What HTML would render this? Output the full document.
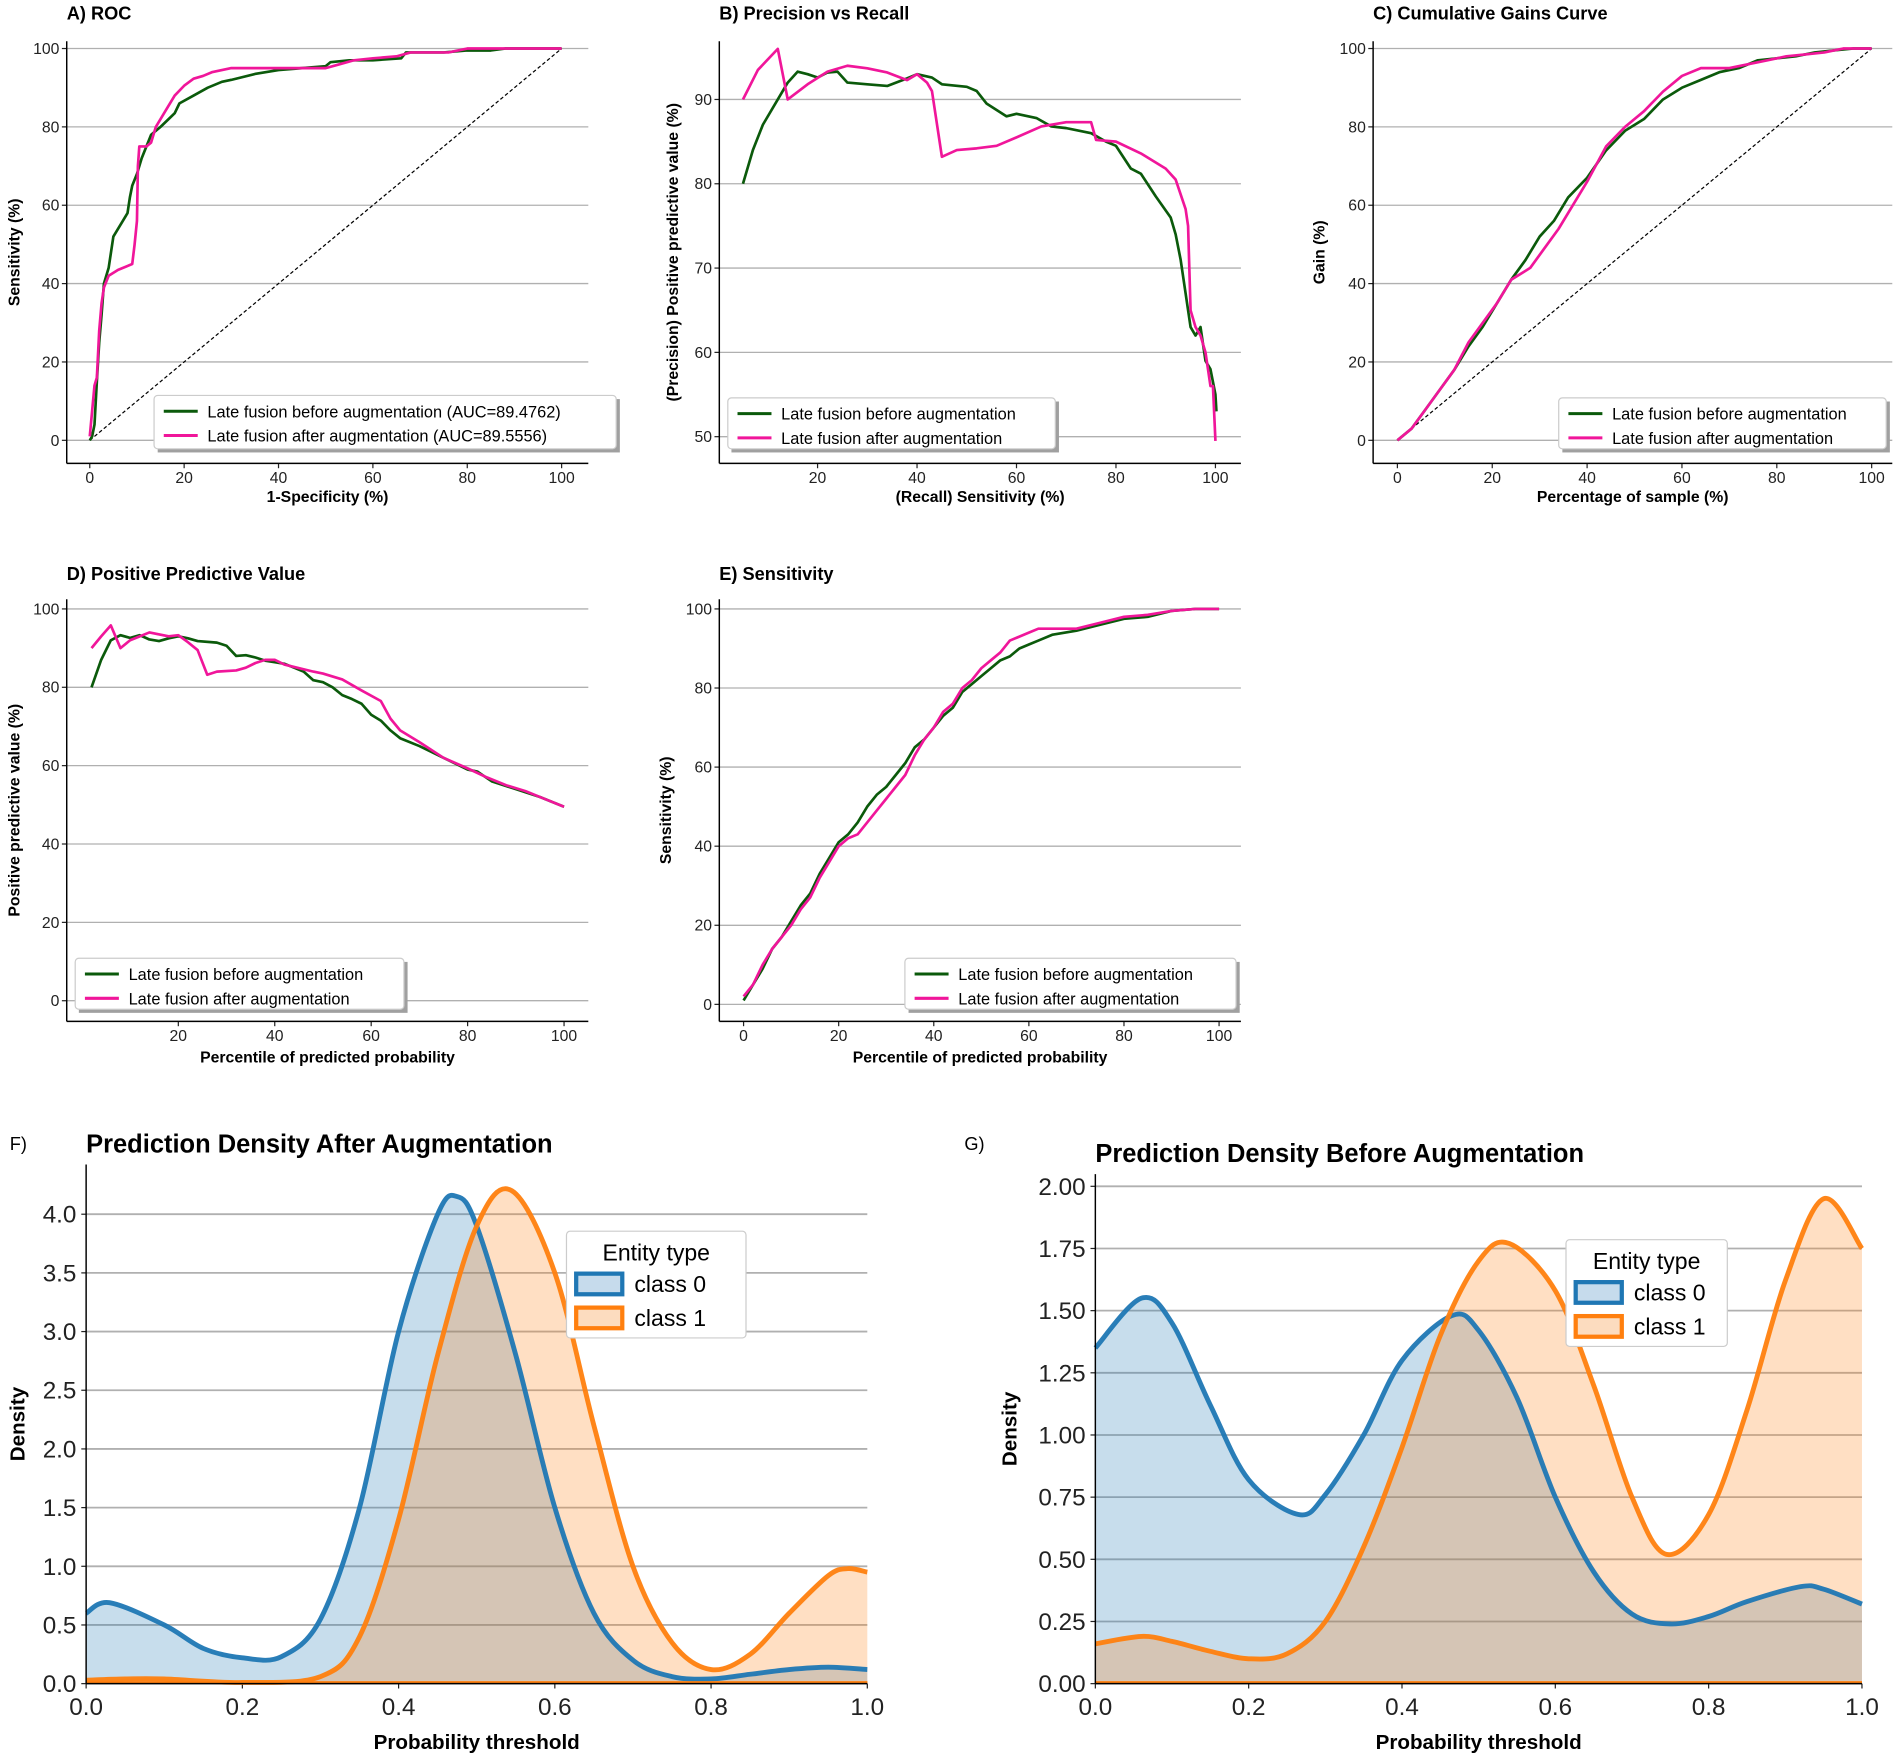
<!DOCTYPE html>
<html><head><meta charset="utf-8"><style>
html,body{margin:0;padding:0;background:#fff}
svg{display:block}
text{font-family:"Liberation Sans","DejaVu Sans",sans-serif}
</style></head><body>
<svg id="fig" width="1902" height="1758" viewBox="0 0 1568 1449.3" xmlns="http://www.w3.org/2000/svg"></svg>
<script>
// ---- data ----
const rocBefore=[[0,0],[0.5,1],[1,4],[1.5,15],[2,25],[2.5,32],[3,40],[4,44],[5,52],[7,56],[8,58],[8.5,62],[9,65],[10,68],[11,72],[13,78],[15,80],[18,83.5],[19,86],[22,88],[25,90],[28,91.5],[30,92],[35,93.5],[40,94.5],[45,95],[50,95.5],[51,96.5],[55,97],[60,97],[66,97.5],[67,99],[75,99],[80,99.5],[85,99.5],[88,100],[100,100]];
const rocAfter=[[0,1],[1,14],[1.5,16],[2,28],[2.5,35],[3,39],[4,42],[6,43.5],[9,45],[9.5,50],[10,56],[10.2,70],[10.5,75],[12,75],[13,76],[14,80],[16,84],[18,88],[20,90.5],[22,92.3],[24,93],[26,94],[30,95],[50,95],[53,96],[56,97],[60,97.5],[65,98],[68,99],[76,99],[80,100],[100,100]];
const prBefore=[[5,80],[7,84],[9,87],[12,90],[14,92],[16,93.3],[18,93],[20,92.6],[22,93.2],[24,93.3],[26,92],[30,91.8],[34,91.6],[38,92.5],[40,93],[43,92.6],[45,91.8],[50,91.5],[52,91],[54,89.5],[58,88],[60,88.3],[64,87.8],[67,86.8],[70,86.6],[75,86],[78,85],[80,84.5],[83,81.8],[85,81.2],[88,78.5],[91,76],[92,74],[93,71],[94,67],[95,63],[96,62],[97,63],[98,59],[99,58],[100,55],[100.2,53]];
const prAfter=[[5,90],[8,93.5],[12,96],[14,90],[18,91.8],[22,93.3],[26,94],[30,93.7],[34,93.2],[38,92.3],[40,93],[42,92],[43,91],[45,83.2],[48,84],[52,84.2],[56,84.5],[60,85.5],[65,86.8],[70,87.3],[75,87.3],[76,85.2],[80,85],[85,83.6],[90,81.8],[92,80.5],[94,77],[94.5,75],[95,65],[96,63],[97,62],[98,60],[98.5,58],[99,56],[99.5,56],[100,49.5]];
const gainBefore=[[0,0],[3,3],[6,8],[9,13],[12,18],[15,24],[18,29],[21,35],[24,41],[27,46],[30,52],[33,56],[36,62],[40,67],[44,74],[48,79],[52,82],[56,87],[60,90],[64,92],[68,94],[72,95],[76,97],[80,97.5],[84,98],[88,99],[92,99.5],[96,100],[100,100]];
const gainAfter=[[0,0],[3,3],[6,8],[9,13],[12,18],[15,25],[18,30],[21,35],[24,41],[28,44],[31,49],[34,54],[37,60],[40,66],[44,75],[48,80],[52,84],[56,89],[60,93],[64,95],[70,95],[74,96],[78,97],[82,98],[86,98.5],[90,99],[94,100],[100,100]];
const ppvBefore=[[2,80],[4,87],[6,92],[8,93.3],[10,92.6],[12,93.3],[14,92.2],[16,91.8],[18,92.5],[20,93],[22,92.5],[24,91.8],[28,91.4],[30,90.6],[32,88],[34,88.2],[36,87.6],[38,86.8],[40,86.4],[42,86],[44,85],[46,84],[48,81.8],[50,81.3],[52,80],[54,78],[56,77],[58,75.8],[60,73],[62,71.5],[64,69],[66,67],[70,65],[75,62],[80,59],[82,58.5],[85,56],[90,54],[95,52],[100,49.5]];
const ppvAfter=[[2,90],[4,93],[6,95.8],[8,90],[10,92],[12,93],[14,94],[18,93],[20,93.3],[22,91.5],[24,89.5],[26,83.2],[28,84],[32,84.3],[34,85],[36,86.2],[38,87],[40,87],[42,85.8],[44,85.2],[48,84],[50,83.5],[54,82],[58,79.2],[62,76.5],[64,72],[66,69],[70,66],[75,62],[80,59.3],[84,57],[88,55],[92,53.5],[96,51.5],[100,49.5]];
const sensBefore=[[0,1],[2,5],[4,9],[6,14],[8,17],[10,21],[12,25],[14,28],[16,33],[18,37],[20,41],[22,43],[24,46],[26,50],[28,53],[30,55],[32,58],[34,61],[36,65],[38,67],[40,70],[42,73],[44,75],[46,79],[48,81],[50,83],[52,85],[54,87],[56,88],[58,90],[60,91],[62,92],[65,93.5],[70,94.5],[75,96],[80,97.5],[85,98],[90,99.5],[95,100],[100,100]];
const sensAfter=[[0,2],[2,5],[4,10],[6,14],[8,17],[10,20],[12,24],[14,27],[16,32],[18,36],[20,40],[22,42],[24,43],[26,46],[28,49],[30,52],[32,55],[34,58],[36,63],[38,67],[40,70],[42,74],[44,76],[46,80],[48,82],[50,85],[52,87],[54,89],[56,92],[58,93],[60,94],[62,95],[70,95],[75,96.5],[80,98],[85,98.5],[90,99.5],[95,100],[100,100]];
const densFc0=[[0,0.6],[0.03,0.69],[0.1,0.5],[0.15,0.3],[0.2,0.22],[0.25,0.23],[0.3,0.55],[0.35,1.5],[0.4,3.0],[0.45,4.0],[0.475,4.15],[0.5,3.9],[0.55,2.8],[0.6,1.5],[0.65,0.6],[0.7,0.2],[0.75,0.06],[0.8,0.04],[0.85,0.08],[0.9,0.12],[0.95,0.14],[1.0,0.12]];
const densFc1=[[0,0.03],[0.05,0.04],[0.1,0.04],[0.2,0.01],[0.3,0.06],[0.35,0.4],[0.4,1.4],[0.45,2.8],[0.5,3.9],[0.545,4.2],[0.6,3.5],[0.65,2.2],[0.7,1.0],[0.75,0.35],[0.8,0.12],[0.85,0.25],[0.9,0.6],[0.95,0.92],[0.975,0.98],[1.0,0.95]];
const densGc0=[[0,1.35],[0.06,1.55],[0.1,1.45],[0.15,1.12],[0.2,0.82],[0.265,0.68],[0.3,0.76],[0.35,1.0],[0.4,1.3],[0.465,1.48],[0.5,1.42],[0.55,1.15],[0.6,0.75],[0.65,0.45],[0.7,0.28],[0.75,0.24],[0.8,0.27],[0.85,0.33],[0.92,0.39],[0.95,0.38],[1.0,0.32]];
const densGc1=[[0,0.16],[0.06,0.19],[0.1,0.17],[0.15,0.13],[0.2,0.1],[0.25,0.12],[0.3,0.25],[0.35,0.55],[0.4,0.95],[0.45,1.4],[0.5,1.7],[0.54,1.77],[0.6,1.58],[0.65,1.2],[0.7,0.75],[0.745,0.52],[0.8,0.68],[0.85,1.1],[0.9,1.62],[0.95,1.95],[1.0,1.75]];
const pctTicks=[0,20,40,60,80,100];
const prYTicks=[50,60,70,80,90];
const prXTicks=[20,40,60,80,100];
const probTicks=[0,0.2,0.4,0.6,0.8,1.0];
const densFTicks=[0,0.5,1,1.5,2,2.5,3,3.5,4];
const densGTicks=[0,0.25,0.5,0.75,1,1.25,1.5,1.75,2];

const NS="http://www.w3.org/2000/svg";
const svg=document.getElementById('fig');
function el(tag,attrs,parent,txt){const e=document.createElementNS(NS,tag);for(const k in attrs)e.setAttribute(k,attrs[k]);if(txt!==undefined)e.textContent=txt;(parent||svg).appendChild(e);return e;}
const GREEN='#0b5a0b',PINK='#f0169a',BLUE='#1f77b4',ORANGE='#ff7f0e';

function smoothPath(pts){let d='M'+pts[0][0].toFixed(2)+','+pts[0][1].toFixed(2);
 for(let i=0;i<pts.length-1;i++){const p0=pts[i-1]||pts[i],p1=pts[i],p2=pts[i+1],p3=pts[i+2]||p2;
  const c1=[p1[0]+(p2[0]-p0[0])/6,p1[1]+(p2[1]-p0[1])/6],c2=[p2[0]-(p3[0]-p1[0])/6,p2[1]-(p3[1]-p1[1])/6];
  d+=' C'+c1[0].toFixed(2)+','+c1[1].toFixed(2)+' '+c2[0].toFixed(2)+','+c2[1].toFixed(2)+' '+p2[0].toFixed(2)+','+p2[1].toFixed(2);}
 return d;}

function panel(c){
 const g=el('g',{});
 
 
 const sx=v=>c.x0+(v-c.d0)/(c.d1-c.d0)*(c.x1-c.x0);
 const sy=v=>c.y0+(v-c.r0)/(c.r1-c.r0)*(c.y1-c.y0);
 c.yt.forEach(v=>{const l=el('line',{x1:c.left,x2:c.right,y1:sy(v),y2:sy(v),stroke:'#b0b0b0','stroke-width':c.big?1.5:1.1},g);
  
  const t=el('text',{x:c.left-(c.big?8:6),y:sy(v)+(c.big?7:4.5),'text-anchor':'end','font-size':c.big?20:13,fill:'#222'},g,c.yfmt?c.yfmt(v):v);
  
  el('line',{x1:c.left-4,x2:c.left,y1:sy(v),y2:sy(v),stroke:'#222'},g);});
 c.xt.forEach(v=>{const t=el('text',{x:sx(v),y:c.bottom+(c.big?26:16),'text-anchor':'middle','font-size':c.big?20:13,fill:'#222'},g,c.xfmt?c.xfmt(v):v);
  
  el('line',{x1:sx(v),x2:sx(v),y1:c.bottom,y2:c.bottom+4,stroke:'#222'},g);});
 if(c.diag){const l=el('line',{x1:sx(0),y1:sy(0),x2:sx(100),y2:sy(100),stroke:'#000','stroke-width':1,'stroke-dasharray':'3,2'},g);
  }
 (c.series||[]).forEach(s=>{const pts=s.data.map(p=>[sx(p[0]),sy(p[1])]);
  const p=el('polyline',{points:pts.map(q=>q.join(',')).join(' '),fill:'none',stroke:s.color,'stroke-width':2.2,'stroke-linejoin':'round'},g);
  });
 (c.dens||[]).forEach(s=>{const pts=s.data.map(p=>[sx(p[0]),sy(p[1])]);const d=smoothPath(pts);
  const f=el('path',{d:d+' L'+sx(1)+','+sy(0)+' L'+sx(0)+','+sy(0)+' Z',fill:s.fill,stroke:'none'},g);
  });
 (c.dens||[]).forEach(s=>{const pts=s.data.map(p=>[sx(p[0]),sy(p[1])]);
  const l=el('path',{d:smoothPath(pts),fill:'none',stroke:s.color,'stroke-width':4,'stroke-opacity':0.95},g);
  
  el('line',{x1:sx(0),x2:sx(1),y1:sy(0)-1,y2:sy(0)-1,stroke:ORANGE,'stroke-width':2},g);});
 el('line',{x1:c.left,x2:c.left,y1:c.top,y2:c.bottom,stroke:'#000','stroke-width':1.2},g);
 el('line',{x1:c.left,x2:c.right,y1:c.bottom,y2:c.bottom,stroke:'#000','stroke-width':1.2},g);
 const tt=el('text',{x:c.tx,y:c.ty,'font-size':c.big?21:15,'font-weight':'bold'},g,c.title);
 
 const xl=el('text',{x:(c.left+c.right)/2,y:c.xly,'text-anchor':'middle','font-size':c.big?17:13,'font-weight':'bold'},g,c.xl);
 
 const yl=el('text',{x:0,y:0,transform:'translate('+c.ylx+','+((c.top+c.bottom)/2)+') rotate(-90)','text-anchor':'middle','font-size':c.big?17:13,'font-weight':'bold'},g,c.yl);
 
 if(c.leg){const L=c.leg;
  if(!c.big) el('rect',{x:L.x+3,y:L.y+3,width:L.w,height:L.h,fill:'#a0a0a0'},g);
  const b=el('rect',{x:L.x,y:L.y,width:L.w,height:L.h,fill:'#fff',stroke:'#ccc',rx:3},g);
  
  if(L.title){el('text',{x:L.x+L.w/2,y:L.y+24,'text-anchor':'middle','font-size':19},g,L.title);}
  L.items.forEach((it,i)=>{const yy=L.y+(L.title?43:13)+i*(c.big?28:20);
   if(c.big){el('rect',{x:L.x+8,y:yy-8,width:38,height:17,fill:it.fill,stroke:it.color,'stroke-width':3.5},g);
    const t=el('text',{x:L.x+56,y:yy+7,'font-size':19},g,it.label);}
   else{el('line',{x1:L.x+8,x2:L.x+36,y1:yy,y2:yy,stroke:it.color,'stroke-width':2.5},g);
    const t=el('text',{x:L.x+44,y:yy+5,'font-size':13.5},g,it.label);}});}
}
const legPlain=[{color:GREEN,label:'Late fusion before augmentation'},{color:PINK,label:'Late fusion after augmentation'}];
panel({name:'roc-panel',left:55,right:485,top:34,bottom:382,x0:74,x1:463,d0:0,d1:100,y0:363,y1:40,r0:0,r1:100,
 xt:pctTicks,yt:pctTicks,diag:true,title:'A) ROC',tx:55,ty:16,xl:'1-Specificity (%)',xly:414,yl:'Sensitivity (%)',ylx:16,
 series:[{name:'roc-before-line',color:GREEN,data:rocBefore},{name:'roc-after-line',color:PINK,data:rocAfter}],
 leg:{x:127,y:326,w:381,h:44,items:[{color:GREEN,label:'Late fusion before augmentation (AUC=89.4762)'},{color:PINK,label:'Late fusion after augmentation (AUC=89.5556)'}]}});
panel({name:'precision-recall-panel',left:593,right:1023,top:34,bottom:382,x0:674,x1:756,d0:20,d1:40,y0:360,y1:82,r0:50,r1:90,
 xt:prXTicks,yt:prYTicks,title:'B) Precision vs Recall',tx:593,ty:16,xl:'(Recall) Sensitivity (%)',xly:414,yl:'(Precision) Positive predictive value (%)',ylx:559,
 series:[{name:'pr-before-line',color:GREEN,data:prBefore},{name:'pr-after-line',color:PINK,data:prAfter}],
 leg:{x:600,y:328,w:270,h:42,items:legPlain}});
panel({name:'gains-panel',left:1132,right:1560,top:34,bottom:382,x0:1152,x1:1543,d0:0,d1:100,y0:363,y1:40,r0:0,r1:100,
 xt:pctTicks,yt:pctTicks,diag:true,title:'C) Cumulative Gains Curve',tx:1132,ty:16,xl:'Percentage of sample (%)',xly:414,yl:'Gain (%)',ylx:1092,
 series:[{name:'gain-before-line',color:GREEN,data:gainBefore},{name:'gain-after-line',color:PINK,data:gainAfter}],
 leg:{x:1285,y:328,w:270,h:42,items:legPlain}});
panel({name:'ppv-panel',left:55,right:485,top:494,bottom:842,x0:67.5,x1:465,d0:0,d1:100,y0:825,y1:502,r0:0,r1:100,
 xt:[20,40,60,80,100],yt:pctTicks,title:'D) Positive Predictive Value',tx:55,ty:478,xl:'Percentile of predicted probability',xly:876,yl:'Positive predictive value (%)',ylx:16,
 series:[{name:'ppv-before-line',color:GREEN,data:ppvBefore},{name:'ppv-after-line',color:PINK,data:ppvAfter}],
 leg:{x:62,y:790,w:271,h:42,items:legPlain}});
panel({name:'sensitivity-panel',left:593,right:1023,top:494,bottom:842,x0:613,x1:1005,d0:0,d1:100,y0:828,y1:502,r0:0,r1:100,
 xt:pctTicks,yt:pctTicks,title:'E) Sensitivity',tx:593,ty:478,xl:'Percentile of predicted probability',xly:876,yl:'Sensitivity (%)',ylx:553,
 series:[{name:'sens-before-line',color:GREEN,data:sensBefore},{name:'sens-after-line',color:PINK,data:sensAfter}],
 leg:{x:746,y:790,w:273,h:42,items:legPlain}});
const legDens={title:'Entity type',items:[{color:BLUE,fill:'#c6dbec',label:'class 0'},{color:ORANGE,fill:'#fcdcbf',label:'class 1'}]};
panel({name:'density-after-panel',big:true,left:71,right:715,top:960,bottom:1388,x0:71,x1:715,d0:0,d1:1,y0:1388,y1:1001,r0:0,r1:4,
 xt:probTicks,yt:densFTicks,xfmt:v=>v.toFixed(1),yfmt:v=>v.toFixed(1),title:'Prediction Density After Augmentation',tx:71,ty:950,
 xl:'Probability threshold',xly:1442,yl:'Density',ylx:20,
 dens:[{name:'class0-density',color:BLUE,fill:'rgba(31,119,180,0.25)',data:densFc0},{name:'class1-density',color:ORANGE,fill:'rgba(255,127,14,0.25)',data:densFc1}],
 leg:Object.assign({x:467,y:1015,w:148,h:88},legDens)});
panel({name:'density-before-panel',big:true,left:903,right:1535,top:968,bottom:1388,x0:903,x1:1535,d0:0,d1:1,y0:1388,y1:978,r0:0,r1:2,
 xt:probTicks,yt:densGTicks,xfmt:v=>v.toFixed(1),yfmt:v=>v.toFixed(2),title:'Prediction Density Before Augmentation',tx:903,ty:958,
 xl:'Probability threshold',xly:1442,yl:'Density',ylx:838,
 dens:[{name:'class0-density',color:BLUE,fill:'rgba(31,119,180,0.25)',data:densGc0},{name:'class1-density',color:ORANGE,fill:'rgba(255,127,14,0.25)',data:densGc1}],
 leg:Object.assign({x:1291,y:1022,w:133,h:88},legDens)});
const fl=el('text',{x:8,y:948,'font-size':15},svg,'F)');


const gl=el('text',{x:795,y:948,'font-size':15},svg,'G)');


</script>
</body></html>
